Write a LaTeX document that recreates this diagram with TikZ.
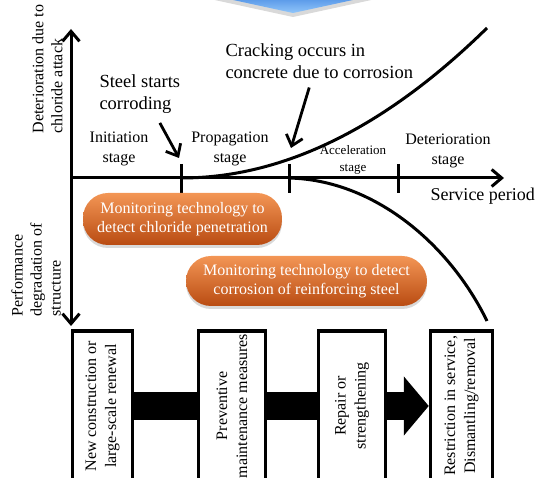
\documentclass[tikz,border=0pt]{standalone}
\usepackage{fontspec}
\setmainfont{Liberation Serif}
\usetikzlibrary{arrows.meta,shadows,calc}
\definecolor{pilltop}{RGB}{243,150,85}
\definecolor{pillmid}{RGB}{222,104,38}
\definecolor{pillbot}{RGB}{185,75,18}
\definecolor{bluetop}{RGB}{55,125,222}
\definecolor{bluebot}{RGB}{145,198,250}

\begin{document}
\begin{tikzpicture}[x=1pt,y=-1pt,>={Straight Barb[length=10pt,width=17pt]},line width=3pt]
  \tikzstyle{lbl}=[inner sep=0pt,align=center,font=\fontsize{16}{20}\selectfont]
  \tikzstyle{small}=[inner sep=0pt,align=center,font=\fontsize{13}{17}\selectfont]
  \tikzstyle{note}=[inner sep=0pt,align=left,font=\fontsize{18.5}{22}\selectfont]
  \tikzstyle{axlbl}=[inner sep=0pt,align=left,rotate=90,anchor=west,font=\fontsize{16}{19}\selectfont]
  \tikzstyle{pill}=[rounded corners=25pt,top color=pilltop,middle color=pillmid,bottom color=pillbot,
    text=white,align=center,font=\fontsize{16}{18.5}\selectfont,
    drop shadow={shadow xshift=0pt,shadow yshift=-3pt,opacity=.3}]
  \tikzstyle{box}=[draw,line width=3.5pt,fill=white,rotate=90,minimum width=150pt,
    align=center,inner sep=2pt,font=\fontsize{16}{20}\selectfont]
  \tikzstyle{band}=[line width=28pt]

  \useasboundingbox (0,0) rectangle (539,478);
  \clip (0,0) rectangle (539,478);

  \shade[top color=bluetop,bottom color=bluebot,
    drop shadow={shadow xshift=0pt,shadow yshift=-4pt,opacity=.3}]
    (187,-10) -- (293,13) -- (399,-10) -- cycle;

  \coordinate (O) at (71,178);
  \coordinate (ytop) at (71,29);
  \coordinate (ybot) at (71,326);
  \coordinate (xend) at (504,178);
  \coordinate (k1) at (181,178);
  \coordinate (k2) at (289,178);
  \coordinate (k3) at (398,178);

  \draw[->] (O) -- (ytop);
  \draw[->] (O) -- (ybot);
  \draw[->] (O) -- (xend);
  \foreach \k in {k1,k2,k3}
    \draw (\k) ++(0,-14) -- ++(0,29);

  \draw (k1) .. controls (283,178) and (385,128) .. (487,28);
  \draw (k2) .. controls (375,180) and (450,245) .. (487,321);

  \node[axlbl] (ylab) at (47.5,135) {Deterioration due to\\chloride attack};
  \node[axlbl] (plab) at (36,318) {Performance\\degradation of\\structure};

  \node[lbl]   (init) at (119,149) {Initiation\\stage};
  \node[lbl]   (prop) at (230,149) {Propagation\\stage};
  \node[small] (acc)  at (353,160) {Acceleration\\stage};
  \node[lbl]   (det)  at (448,151) {Deterioration\\stage};
  \node[note,anchor=west,font=\fontsize{18}{22}\selectfont] (serv) at (429,196) {Service period};
  \node[note,anchor=west] (steel) at (98,94) {Steel starts\\corroding};
  \node[note,anchor=west] (crack) at (224,61) {Cracking occurs in\\concrete due to corrosion};

  \draw[->,line width=2.8pt] ($(steel.south)+(20,8)$) -- ($(k1)+(-2,-20)$);
  \draw[->,line width=2.8pt] ($(crack.south)+(-10,7.5)$) -- ($(k2)+(2,-30)$);

  \node[pill,minimum width=199pt,minimum height=52pt] (mon1) at (182.5,219)
    {Monitoring technology to\\detect chloride penetration};
  \node[pill,minimum width=241pt,minimum height=50pt] (mon2) at (306.5,281)
    {Monitoring technology to detect\\corrosion of reinforcing steel};

  \node[box,minimum height=60pt] (b1) at (102.5,406) {New construction or\\large-scale renewal};
  \node[box,minimum height=67pt] (b2) at (232,406) {Preventive\\maintenance measures};
  \node[box,minimum height=67pt] (b3) at (352,406) {Repair or\\strengthening};
  \node[box,minimum height=62pt] (b4) at (461.5,406) {Restriction in service,\\Dismantling/removal};

  \draw[band] (b1) -- (b2);
  \draw[band] (b2) -- (b3);
  \draw[band,-{Triangle[length=25pt,width=58pt]}] (b3) -- (b4);
\end{tikzpicture}
\end{document}
